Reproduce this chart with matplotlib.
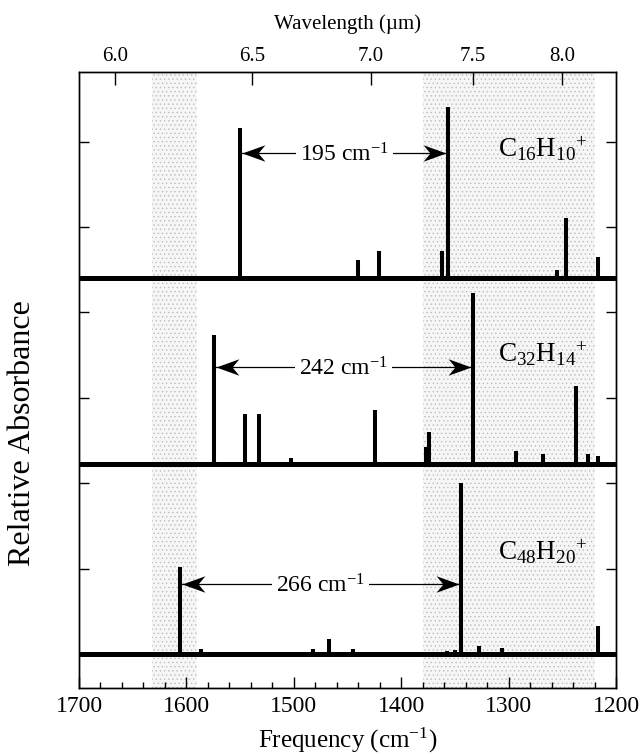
import numpy as np
import matplotlib
matplotlib.use('Agg')
import matplotlib.pyplot as plt
from matplotlib.path import Path
from matplotlib.ticker import MultipleLocator

plt.rcParams['font.family'] = ['Liberation Serif', 'DejaVu Serif']
plt.rcParams['mathtext.fontset'] = 'custom'
plt.rcParams['mathtext.rm'] = 'Liberation Serif'
plt.rcParams['mathtext.it'] = 'Liberation Serif:italic'
plt.rcParams['mathtext.bf'] = 'Liberation Serif:bold'
plt.rcParams['hatch.linewidth'] = 0.5

# stick spectra (frequency in cm-1, intensity relative to strongest band)
c16_freq = [1550, 1440, 1421, 1362, 1356, 1255, 1247, 1217]
c16_int = [0.88, 0.105, 0.16, 0.16, 1.0, 0.047, 0.35, 0.125]

c32_freq = [1574, 1545, 1532, 1503, 1424, 1377, 1374, 1333, 1293, 1268, 1237, 1226, 1217]
c32_int = [0.755, 0.294, 0.294, 0.037, 0.318, 0.10, 0.19, 1.0, 0.078, 0.059, 0.459, 0.059, 0.049]

c48_freq = [1606, 1586, 1482, 1467, 1445, 1369, 1364, 1357, 1350, 1344, 1328, 1306, 1217]
c48_int = [0.507, 0.029, 0.029, 0.089, 0.029, 0.012, 0.012, 0.017, 0.023, 1.0, 0.048, 0.038, 0.166]

species = [r'$\mathrm{C_{16}H_{10}{}^{+}}$', r'$\mathrm{C_{32}H_{14}{}^{+}}$', r'$\mathrm{C_{48}H_{20}{}^{+}}$']
# pairs of bands joined by the arrows
spans = [(1550, 1356), (1574, 1333), (1606, 1344)]
span_labels = ['195 cm$^{-1}$', '242 cm$^{-1}$', '266 cm$^{-1}$']

# interstellar 6.2 and 7.7 micron band regions
bands = [(1632, 1590), (1380, 1220)]
wavelength_ticks = [6.0, 6.5, 7.0, 7.5, 8.0]

spectra = [(c16_freq, c16_int), (c32_freq, c32_int), (c48_freq, c48_int)]
offsets = [4.40, 2.225, 0.0]
scale = 2.0
arrow_y = [5.863, 3.357, 0.816]
label_y = [5.823, 3.423, 1.10]

LEFT_HEAD = Path([(0, 0), (1, 0.36), (0.7, 0), (1, -0.36), (0, 0)],
                 [Path.MOVETO, Path.LINETO, Path.LINETO, Path.LINETO, Path.CLOSEPOLY])
RIGHT_HEAD = Path([(0, 0), (-1, 0.36), (-0.7, 0), (-1, -0.36), (0, 0)],
                  [Path.MOVETO, Path.LINETO, Path.LINETO, Path.LINETO, Path.CLOSEPOLY])


def draw_span(ax, f_left, f_right, y, text):
    """Double headed arrow between two bands with the separation written in the middle"""
    x1, x2 = f_left - 2, f_right + 2
    ax.plot([x1, x2], [y, y], color='k', lw=0.9, zorder=4)
    ax.plot([x1], [y], marker=LEFT_HEAD, ms=33, color='k', mew=0, zorder=4)
    ax.plot([x2], [y], marker=RIGHT_HEAD, ms=33, color='k', mew=0, zorder=4)
    ax.text((f_left + f_right) / 2, y - 0.1, text, ha='center', va='baseline', fontsize=17,
            bbox=dict(fc='white', ec='none', pad=3), zorder=5)


fig = plt.figure(figsize=(6.43, 7.55), dpi=100)
ax = fig.add_axes([79 / 643, 1 - 688 / 755, 537 / 643, 616 / 755])

for lo, hi in bands:
    ax.axvspan(lo, hi, facecolor='#f6f6f6', edgecolor='#bdbdbd', hatch='....', lw=0, zorder=0)

for (freq, inten), base in zip(spectra, offsets):
    tops = [base + scale * v for v in inten]
    ax.vlines(freq, base, tops, color='k', lw=2.9, zorder=2)
    ax.axhline(base, color='k', lw=3.6, zorder=3)

for (fl, fr), y, txt in zip(spans, arrow_y, span_labels):
    draw_span(ax, fl, fr, y, txt)

for name, y in zip(species, label_y):
    ax.text(1268, y, name, ha='center', va='baseline', fontsize=19.5, zorder=5)

ax.set_xlim(1700, 1200)
ax.set_ylim(-0.398, 6.815)
ax.xaxis.set_major_locator(MultipleLocator(100))
ax.xaxis.set_minor_locator(MultipleLocator(20))
ax.set_yticks(range(0, 7))
ax.tick_params(axis='x', which='major', direction='in', length=8, width=1, labelsize=17, pad=6)
ax.tick_params(axis='x', which='minor', direction='in', length=4.3, width=1)
ax.tick_params(axis='y', direction='in', length=7, width=1, left=True, right=True, labelleft=False)
for s in ax.spines.values():
    s.set_linewidth(1)

ax2 = ax.twiny()
ax2.set_xlim(ax.get_xlim())
ax2.set_xticks([1e4 / w for w in wavelength_ticks])
ax2.set_xticklabels([f'{w:.1f}' for w in wavelength_ticks])
ax2.tick_params(axis='x', direction='in', length=9, width=1, labelsize=15, pad=4)
for s in ax2.spines.values():
    s.set_linewidth(1)

fig.text(347.5 / 643, 1 - 740 / 755, 'Frequency (cm$^{-1}$)', ha='center', va='center', fontsize=18)
fig.text(347.5 / 643, 1 - 24 / 755, 'Wavelength (\u00b5m)', ha='center', va='center', fontsize=15)
fig.text(23 / 643, 1 - 433 / 755, 'Relative Absorbance', ha='center', va='center', rotation=90, fontsize=23)

fig.savefig('out.png', dpi=100)
